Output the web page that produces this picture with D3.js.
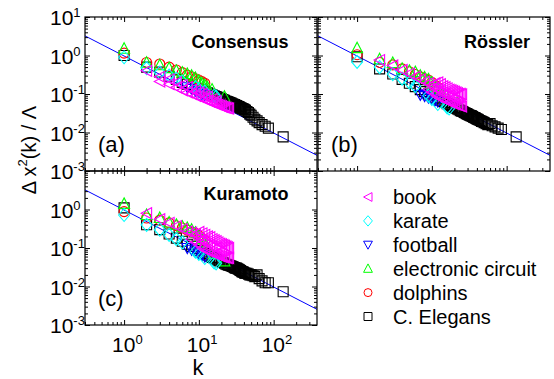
<!DOCTYPE html>
<html>
<head>
<meta charset="utf-8">
<script src="https://cdn.jsdelivr.net/npm/d3@7"></script>
<style>
  body { margin: 0; background: #fff; }
  svg { font-family: Arial, "Liberation Sans", sans-serif; }
</style>
</head>
<body>
<svg id="chart" width="554" height="379"></svg>
<script>
// ---- data: [k, dx^2(k)/Lambda] ----
const networks = ['book', 'karate', 'football', 'electronic circuit', 'dolphins', 'C. Elegans'];
const colors = ['#ff00ff', '#00ffff', '#0000ff', '#00ff00', '#ff0000', '#000000'];
const shapes = ['left', 'diamond', 'down', 'up', 'circle', 'square'];

// Consensus (a)
const aBook = [[2,0.40],[3,0.21],[3,0.28],[4,0.18],[4,0.24],[5,0.15],[5,0.2],[6,0.125],[6,0.17],[7,0.11],[7,0.15],[8,0.1],[8,0.13],[9,0.09],[9,0.12],[10,0.083],[10,0.11],[11,0.077],[11,0.1],[12,0.072],[12,0.092],[13,0.067],[13,0.085],[14,0.063],[15,0.06],[15,0.074],[16,0.057],[17,0.054],[17,0.066],[18,0.052],[19,0.05],[20,0.048],[21,0.046],[22,0.045],[23,0.044],[24,0.043],[25,0.042]];
const aKarate = [[1,0.9],[2,0.47],[3,0.36],[4,0.3],[5,0.25],[6,0.21],[9,0.15],[10,0.135],[12,0.115],[16,0.09],[17,0.085]];
const aFootball = [[7,0.15],[8,0.135],[9,0.12],[10,0.11],[11,0.1],[12,0.093]];
const aCircuit = [[1,1.5],[2,0.65],[3,0.56],[4,0.47],[5,0.4],[6,0.36],[7,0.33],[8,0.3],[9,0.26],[10,0.22],[11,0.19],[12,0.17],[13,0.15],[15,0.13],[22,0.085]];
const aDolphins = [[1,1.15],[2,0.66],[3,0.6],[4,0.5],[5,0.42],[6,0.36],[7,0.31],[8,0.28],[9,0.25],[10,0.23],[11,0.21],[12,0.19]];

// Rossler (b)
const bBook = [[2,0.76],[3,0.55],[4,0.42],[5,0.34],[6,0.28],[7,0.24],[8,0.21],[9,0.19],[9,0.13],[10,0.17],[10,0.11],[11,0.19],[11,0.1],[11,0.14],[12,0.2],[12,0.085],[12,0.13],[13,0.18],[13,0.08],[13,0.12],[14,0.16],[14,0.075],[14,0.11],[15,0.15],[15,0.07],[15,0.1],[16,0.14],[16,0.066],[17,0.13],[17,0.062],[17,0.09],[18,0.125],[18,0.06],[19,0.12],[19,0.057],[20,0.115],[20,0.055],[20,0.08],[21,0.11],[21,0.053],[22,0.105],[22,0.052],[23,0.1],[23,0.05],[24,0.1],[24,0.049],[25,0.098],[25,0.047]];
const bKarate = [[1,0.68],[2,0.5],[3,0.33],[4,0.25],[5,0.2],[6,0.16],[9,0.09],[10,0.075],[12,0.055],[16,0.045],[17,0.042]];
const bFootball = [[7,0.095],[8,0.088],[9,0.08],[10,0.074],[11,0.068],[12,0.063]];
const bCircuit = [[1,1.55],[2,0.8],[3,0.64],[4,0.45],[5,0.4],[6,0.37],[7,0.3],[8,0.27],[9,0.24],[10,0.2],[11,0.16],[12,0.14],[13,0.12],[15,0.1],[22,0.06]];
const bDolphins = [[1,1.05],[2,0.66],[3,0.57],[4,0.45],[5,0.38],[6,0.32],[7,0.28],[8,0.25],[9,0.23],[10,0.2],[11,0.17],[12,0.15]];

// Kuramoto (c)
const cBook = [[2,0.8],[3,0.56],[4,0.45],[5,0.37],[6,0.31],[7,0.27],[8,0.25],[8,0.17],[9,0.23],[9,0.14],[10,0.26],[10,0.12],[10,0.18],[11,0.24],[11,0.1],[11,0.16],[12,0.22],[12,0.09],[12,0.15],[13,0.2],[13,0.085],[13,0.13],[14,0.19],[14,0.08],[14,0.12],[15,0.17],[15,0.075],[15,0.11],[16,0.16],[16,0.07],[17,0.15],[17,0.068],[17,0.1],[18,0.14],[18,0.065],[19,0.13],[19,0.062],[20,0.125],[20,0.06],[20,0.085],[21,0.12],[21,0.058],[22,0.115],[22,0.057],[23,0.11],[23,0.056],[24,0.105],[24,0.055],[25,0.1],[25,0.055]];
const cKarate = [[1,0.72],[2,0.4],[3,0.3],[4,0.22],[5,0.17],[6,0.14],[9,0.08],[10,0.07],[12,0.055],[16,0.042],[17,0.04]];
const cFootball = [[7,0.1],[8,0.09],[9,0.08],[10,0.072],[11,0.066],[12,0.06]];
const cCircuit = [[1,1.4],[2,0.72],[3,0.6],[4,0.46],[5,0.4],[6,0.36],[7,0.33],[8,0.3],[9,0.25],[10,0.2],[11,0.17],[12,0.14],[13,0.1],[15,0.07],[22,0.045]];
const cDolphins = [[1,0.88],[2,0.6],[3,0.53],[4,0.45],[5,0.38],[6,0.33],[7,0.29],[8,0.26],[9,0.24],[10,0.21],[11,0.18],[12,0.16]];

// C. Elegans degrees and values per model
const kElegans = [1,2,3,4,5,6,7,8,9,10,11,12,13,14,15,16,17,18,19,20,21,22,23,24,25,26,27,28,29,30,31,32,33,34,35,36,37,38,39,40,41,42,44,46,48,50,53,56,60,64,70,77,85,134];
const aElegans = [1.0,0.5,0.37,0.29,0.24,0.2,0.18,0.16,0.145,0.135,0.125,0.115,0.108,0.1,0.095,0.09,0.086,0.082,0.078,0.075,0.072,0.069,0.066,0.064,0.062,0.06,0.058,0.056,0.054,0.053,0.051,0.05,0.048,0.047,0.046,0.044,0.043,0.042,0.041,0.04,0.039,0.038,0.035,0.033,0.03,0.028,0.025,0.022,0.02,0.018,0.016,0.0145,0.013,0.0077];
const bElegans = [0.93,0.45,0.33,0.24,0.19,0.155,0.13,0.115,0.1,0.09,0.082,0.075,0.069,0.064,0.06,0.056,0.053,0.05,0.047,0.045,0.043,0.041,0.039,0.037,0.036,0.035,0.033,0.032,0.031,0.03,0.029,0.028,0.0275,0.027,0.026,0.025,0.0245,0.024,0.023,0.0225,0.022,0.0215,0.0205,0.0195,0.019,0.018,0.017,0.016,0.017,0.015,0.014,0.013,0.012,0.0077];
const cElegans = [1.1,0.4,0.3,0.23,0.18,0.15,0.125,0.11,0.097,0.087,0.079,0.072,0.066,0.061,0.057,0.054,0.051,0.048,0.046,0.044,0.042,0.04,0.038,0.037,0.036,0.035,0.034,0.033,0.032,0.031,0.03,0.03,0.029,0.028,0.027,0.026,0.025,0.024,0.024,0.023,0.022,0.022,0.022,0.021,0.02,0.02,0.019,0.018,0.02,0.016,0.014,0.0125,0.0125,0.0073];

// fitted power law: y = fitA * k^fitB
const fitA = 0.97, fitB = -1;

const xTicks = [1, 10, 100];
const yTicks = [1e-3, 1e-2, 1e-1, 1, 10];

// ---- layout ----
const svg = d3.select('#chart');
const W = 232, H = 154;
const x = d3.scaleLog().domain([0.3, 380]).range([0, W]);
const y = d3.scaleLog().domain([1e-3, 10]).range([H, 0]);

const zipK = (ks, vs) => ks.map((k, i) => [k, vs[i]]);

// yTop: whether the top decade label is drawn (hidden under panel above for c)
const panels = [
  {left: 85, top: 17, title: 'Consensus', tx: 240, ty: 48, tag: '(a)', yLab: true, yTop: true, xLab: false,
   series: [aBook, aKarate, aFootball, aCircuit, aDolphins, zipK(kElegans, aElegans)]},
  {left: 318, top: 17, title: 'Rössler', tx: 497, ty: 48, tag: '(b)', yLab: false, yTop: false, xLab: false,
   series: [bBook, bKarate, bFootball, bCircuit, bDolphins, zipK(kElegans, bElegans)]},
  {left: 85, top: 171, title: 'Kuramoto', tx: 246, ty: 200, tag: '(c)', yLab: true, yTop: false, xLab: true,
   series: [cBook, cKarate, cFootball, cCircuit, cDolphins, zipK(kElegans, cElegans)]}
];

function shapePath(shape, s) {
  // s = scale, base marker about 11px
  const p = pts => 'M' + pts.map(d => (d[0] * s) + ',' + (d[1] * s)).join('L') + 'Z';
  switch (shape) {
    case 'left': return p([[-5.5, 0], [5, -5.5], [5, 5.5]]);
    case 'down': return p([[-5.5, -4.5], [5.5, -4.5], [0, 5.5]]);
    case 'up': return p([[0, -6], [5.5, 4.5], [-5.5, 4.5]]);
    case 'diamond': return p([[0, -6.5], [5.5, 0], [0, 6.5], [-5.5, 0]]);
    case 'square': return p([[-5, -5], [5, -5], [5, 5], [-5, 5]]);
    case 'circle': {
      const r = 5 * s;
      return 'M' + (-r) + ',0A' + r + ',' + r + ' 0 1,0 ' + r + ',0A' + r + ',' + r + ' 0 1,0 ' + (-r) + ',0Z';
    }
  }
}

function minorTicks(lo, hi) {
  const out = [];
  for (let e = -4; e <= 3; e++) {
    for (let m = 2; m <= 9; m++) {
      const v = m * Math.pow(10, e);
      if (v > lo && v < hi) out.push(v);
    }
  }
  return out;
}
const xMinor = minorTicks(0.3 - 1e-9, 380);
const yMinor = minorTicks(1e-3, 10);

function superLabel(sel, exp) {
  sel.append('tspan').text('10');
  sel.append('tspan').attr('dy', -8).attr('font-size', 13).text(exp);
}

panels.forEach((pn, pi) => {
  const g = svg.append('g').attr('transform', 'translate(' + pn.left + ',' + pn.top + ')');

  g.append('clipPath').attr('id', 'clip' + pi)
    .append('rect').attr('width', W).attr('height', H);

  const plot = g.append('g').attr('clip-path', 'url(#clip' + pi + ')');

  // fit line
  const line = d3.line().x(d => x(d)).y(d => y(fitA * Math.pow(d, fitB)));
  plot.append('path')
    .datum(x.domain())
    .attr('d', line)
    .attr('fill', 'none')
    .attr('stroke', '#0000ff')
    .attr('stroke-width', 1);

  // markers, C. Elegans first so book ends up on top
  for (let si = pn.series.length - 1; si >= 0; si--) {
    plot.append('g')
      .selectAll('path')
      .data(pn.series[si])
      .join('path')
      .attr('transform', d => 'translate(' + x(d[0]) + ',' + y(d[1]) + ')')
      .attr('d', shapePath(shapes[si], 1))
      .attr('fill', 'none')
      .attr('stroke', colors[si])
      .attr('stroke-width', 1.1);
  }

  // ticks on all four sides, pointing inward
  const addAxis = (axis, tr) => {
    const ax = g.append('g').attr('transform', tr).call(axis.tickSizeOuter(0));
    ax.selectAll('text').remove();
    ax.select('.domain').remove();
    ax.selectAll('line').attr('stroke', '#000');
  };
  addAxis(d3.axisBottom(x).tickValues(xTicks).tickSize(-5).tickFormat(''), 'translate(0,' + H + ')');
  addAxis(d3.axisBottom(x).tickValues(xMinor).tickSize(-3).tickFormat(''), 'translate(0,' + H + ')');
  addAxis(d3.axisTop(x).tickValues(xTicks).tickSize(-5).tickFormat(''), 'translate(0,0)');
  addAxis(d3.axisTop(x).tickValues(xMinor).tickSize(-3).tickFormat(''), 'translate(0,0)');
  addAxis(d3.axisLeft(y).tickValues(yTicks).tickSize(-5).tickFormat(''), 'translate(0,0)');
  addAxis(d3.axisLeft(y).tickValues(yMinor).tickSize(-3).tickFormat(''), 'translate(0,0)');
  addAxis(d3.axisRight(y).tickValues(yTicks).tickSize(-5).tickFormat(''), 'translate(' + W + ',0)');
  addAxis(d3.axisRight(y).tickValues(yMinor).tickSize(-3).tickFormat(''), 'translate(' + W + ',0)');

  g.append('rect')
    .attr('width', W).attr('height', H)
    .attr('fill', 'none').attr('stroke', '#000').attr('stroke-width', 1.2);

  // tick labels
  if (pn.yLab) {
    yTicks.filter(v => pn.yTop || v < 10).forEach(v => {
      const t = g.append('text')
        .attr('x', -35).attr('y', y(v) + 8)
        .attr('font-size', 21);
      superLabel(t, String(Math.round(Math.log10(v))));
    });
  }
  if (pn.xLab) {
    xTicks.forEach(v => {
      const t = g.append('text')
        .attr('x', x(v) - 12).attr('y', H + 27)
        .attr('font-size', 21);
      superLabel(t, String(Math.round(Math.log10(v))));
    });
  }

  svg.append('text')
    .attr('x', pn.tx).attr('y', pn.ty)
    .attr('text-anchor', 'middle')
    .attr('font-size', 18).attr('font-weight', 'bold')
    .text(pn.title);

  g.append('text')
    .attr('x', 13).attr('y', H - 19)
    .attr('font-size', 22)
    .text(pn.tag);
});

// axis titles
svg.append('text')
  .attr('x', 198).attr('y', 375)
  .attr('text-anchor', 'middle')
  .attr('font-size', 22)
  .text('k');

const yt = svg.append('text')
  .attr('transform', 'translate(36,150) rotate(-90)')
  .attr('text-anchor', 'middle')
  .attr('font-size', 20);
yt.append('tspan').text('Δ x');
yt.append('tspan').attr('dy', -9).attr('font-size', 13).text('2');
yt.append('tspan').attr('dy', 9).text('(k) / Λ');

// legend
const legend = svg.append('g');
networks.forEach((name, i) => {
  const ly = 197 + i * 23.9;
  legend.append('path')
    .attr('transform', 'translate(368,' + ly + ')')
    .attr('d', shapePath(shapes[i], 0.8))
    .attr('fill', 'none')
    .attr('stroke', colors[i])
    .attr('stroke-width', 1);
  legend.append('text')
    .attr('x', 393).attr('y', ly + 7)
    .attr('font-size', 20)
    .text(name);
});
</script>
</body>
</html>
